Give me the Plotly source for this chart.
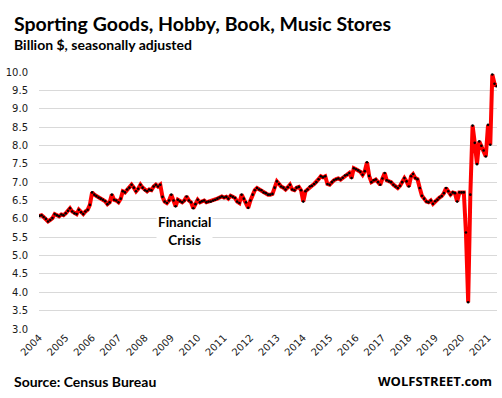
import plotly.graph_objects as go
import pandas as pd

# Monthly sales, billion $, seasonally adjusted
start_month = "2004-01-01"
sales_2004 = [6.08, 6.10, 6.05, 6.00, 5.93, 5.97, 6.02, 6.13, 6.10, 6.07, 6.12, 6.10]
sales_2005 = [6.15, 6.22, 6.29, 6.20, 6.15, 6.13, 6.25, 6.18, 6.13, 6.20, 6.25, 6.38]
sales_2006 = [6.72, 6.66, 6.62, 6.58, 6.55, 6.52, 6.48, 6.40, 6.45, 6.66, 6.52, 6.50]
sales_2007 = [6.45, 6.55, 6.75, 6.72, 6.80, 6.85, 6.93, 6.85, 6.75, 6.82, 6.93, 6.85]
sales_2008 = [6.78, 6.75, 6.80, 6.78, 6.88, 6.93, 6.88, 6.93, 6.60, 6.47, 6.43, 6.50]
sales_2009 = [6.66, 6.50, 6.34, 6.52, 6.48, 6.45, 6.50, 6.61, 6.50, 6.45, 6.29, 6.40]
sales_2010 = [6.52, 6.45, 6.48, 6.50, 6.45, 6.47, 6.47, 6.50, 6.52, 6.55, 6.58, 6.61]
sales_2011 = [6.58, 6.60, 6.55, 6.63, 6.60, 6.57, 6.47, 6.43, 6.66, 6.55, 6.45, 6.30]
sales_2012 = [6.50, 6.66, 6.78, 6.84, 6.80, 6.78, 6.72, 6.70, 6.66, 6.66, 6.68, 6.85]
sales_2013 = [7.02, 6.95, 6.88, 6.85, 6.80, 6.86, 6.93, 6.80, 6.78, 6.85, 6.87, 6.78]
sales_2014 = [6.47, 6.75, 6.80, 6.88, 6.90, 6.95, 7.00, 7.08, 7.16, 7.13, 7.16, 6.95]
sales_2015 = [6.93, 7.00, 7.05, 7.08, 7.10, 7.07, 7.12, 7.18, 7.20, 7.25, 7.11, 7.38]
sales_2016 = [7.35, 7.32, 7.28, 7.20, 7.30, 7.54, 7.17, 7.00, 7.05, 7.07, 7.00, 6.93]
sales_2017 = [7.10, 7.25, 7.05, 7.02, 7.00, 6.93, 6.88, 6.84, 6.90, 7.00, 7.11, 7.02]
sales_2018 = [6.88, 7.16, 7.22, 7.11, 7.08, 6.84, 6.63, 6.55, 6.47, 6.45, 6.50, 6.41]
sales_2019 = [6.48, 6.52, 6.58, 6.62, 6.70, 6.84, 6.75, 6.66, 6.72, 6.70, 6.47, 6.72]
sales_2020 = [6.72, 6.72, 5.63, 3.73, 6.66, 8.54, 8.07, 7.49, 8.11, 7.99, 7.86, 7.70]
sales_2021 = [8.56, 8.02, 9.93, 9.68, 9.61]

year_labels = [str(y) for y in range(2004, 2022)]

sales = (sales_2004 + sales_2005 + sales_2006 + sales_2007 + sales_2008 +
         sales_2009 + sales_2010 + sales_2011 + sales_2012 + sales_2013 +
         sales_2014 + sales_2015 + sales_2016 + sales_2017 + sales_2018 +
         sales_2019 + sales_2020 + sales_2021)
dates = pd.date_range(start_month, periods=len(sales), freq="MS")
tick_dates = [pd.Timestamp(f"{y}-01-01") for y in year_labels]

W, H = 502, 398
L, R, T, B = 39, 5, 72, 69
pw, ph = W - L - R, H - T - B

def px(x):
    return (x - L) / pw

def py(y):
    return (H - B - y) / ph

fig = go.Figure()
fig.add_trace(go.Scatter(
    x=dates, y=sales, mode="lines+markers",
    line=dict(color="#ff0000", width=4),
    marker=dict(color="#000000", size=2.6),
    hoverinfo="skip",
))

fig.update_layout(
    width=W, height=H,
    margin=dict(l=L, r=R, t=T, b=B, autoexpand=False),
    paper_bgcolor="white", plot_bgcolor="white",
    showlegend=False,
    font=dict(family="DejaVu Sans", size=10, color="#1a1a1a"),
    xaxis=dict(
        type="date",
        range=["2003-12-28", "2021-05-05"],
        tickvals=tick_dates, ticktext=year_labels,
        tickangle=-45, showgrid=False, zeroline=False,
        showline=False, ticks="", automargin=False,
        tickfont=dict(family="DejaVu Sans", size=10, color="#1a1a1a"),
    ),
    yaxis=dict(
        range=[3.0, 10.0], dtick=0.5, tick0=3.0, tickformat=".1f",
        showgrid=True, gridcolor="#d9d9d9", gridwidth=1,
        zeroline=False, showline=False, ticks="", automargin=False,
        ticklabelstandoff=10,
        tickfont=dict(family="DejaVu Sans", size=10, color="#1a1a1a"),
    ),
)

ann = [
    dict(text="<b>Sporting Goods, Hobby, Book, Music Stores</b>", x=px(12), y=py(23),
         xanchor="left", yanchor="middle", font=dict(family="Lato", size=19.5, color="#000")),
    dict(text="<b>Billion $, seasonally adjusted</b>", x=px(12), y=py(45),
         xanchor="left", yanchor="middle", font=dict(family="Lato", size=14, color="#000")),
    dict(text="<b>Source: Census Bureau</b>", x=px(12), y=py(381),
         xanchor="left", yanchor="middle", font=dict(family="Lato", size=14, color="#000")),
    dict(text="<b>WOLFSTREET.com</b>", x=px(494), y=py(381),
         xanchor="right", yanchor="middle", font=dict(family="Open Sans", size=13, color="#000")),
]
for a in ann:
    a.update(xref="paper", yref="paper", showarrow=False)
fig.update_layout(annotations=ann)
fig.add_annotation(
    text="<b>Financial</b><br><b>Crisis</b>", x="2009-07-01", y=5.68, xref="x", yref="y",
    showarrow=False, align="center", bgcolor="white",
    font=dict(family="Lato", size=13.5, color="#000"),
)

fig.write_html("out.html", config={"displayModeBar": False},
               post_script="document.body.style.margin='0';document.body.style.padding='0';")
